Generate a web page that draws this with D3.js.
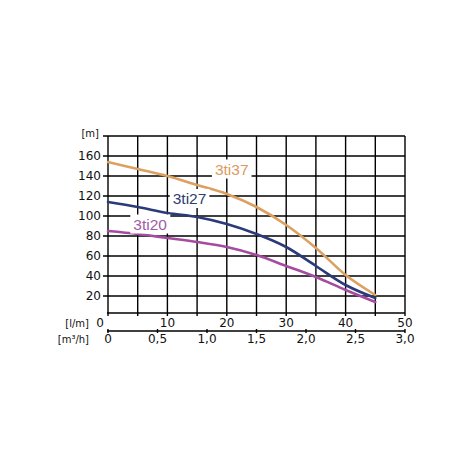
<!DOCTYPE html>
<html>
<head>
<meta charset="utf-8">
<script src="https://cdn.jsdelivr.net/npm/d3@7"></script>
<style>
  html, body { margin: 0; padding: 0; background: #fff; }
  svg { display: block; }
</style>
</head>
<body>
<div id="chart"></div>
<script>
// Data
const flowLpm = [0, 5, 10, 15, 20, 25, 30, 35, 40, 45];
const head3ti37 = [154, 147, 140, 131, 122, 109, 91, 68, 41, 21];
const head3ti27 = [114, 109, 103, 99, 92, 82, 69, 50, 31, 18];
const head3ti20 = [85, 82, 78, 74, 69, 61, 50, 39, 26, 14];
const seriesNames = ["3ti37", "3ti27", "3ti20"];

const yTicks = [20, 40, 60, 80, 100, 120, 140, 160];
const lpmTicks = [10, 20, 30, 40, 50];
const m3hTicks = [0, 0.5, 1.0, 1.5, 2.0, 2.5, 3.0];

// Configuration
const width = 470;
const height = 470;
const colors = ["#dca061", "#2b3a78", "#a44c9f"];
const labelColors = ["#dc9a60", "#2e3d70", "#a05ca6"];

const svg = d3.select("#chart")
    .append("svg")
    .attr("width", width)
    .attr("height", height)
    .attr("viewBox", [0, 0, width, height]);

svg.append("rect").attr("width", width).attr("height", height).attr("fill", "#fff");

// Scales - the bottom axis sits a little above 0 m on the original sheet
const x = d3.scaleLinear().domain([0, 50]).range([108, 405]);
const x2 = d3.scaleLinear().domain([0, 3]).range([108, 405]);
const y = d3.scaleLinear().domain([3, 180]).range([313, 136]);

const grid = svg.append("g")
    .attr("stroke", "#000")
    .attr("stroke-width", 1.4);

// vertical grid, every 5 l/m, with small tick under the axis
grid.selectAll("line.v")
    .data(d3.range(0, 51, 5))
    .join("line")
    .attr("class", "v")
    .attr("x1", d => x(d)).attr("x2", d => x(d))
    .attr("y1", y(180)).attr("y2", y(3) + 3);

// horizontal grid, sticking out to the left as ticks
grid.selectAll("line.h")
    .data([...yTicks, 180])
    .join("line")
    .attr("class", "h")
    .attr("x1", x(0) - 5).attr("x2", x(50))
    .attr("y1", d => y(d)).attr("y2", d => y(d));

// bottom axis line
grid.append("line")
    .attr("x1", x(0) - 1).attr("x2", x(50))
    .attr("y1", y(3)).attr("y2", y(3));

// second axis (m3/h)
const axis2Y = 331;
grid.append("line")
    .attr("x1", x2(0) - 1).attr("x2", x2(3))
    .attr("y1", axis2Y).attr("y2", axis2Y);
grid.selectAll("line.t2")
    .data(m3hTicks)
    .join("line")
    .attr("class", "t2")
    .attr("x1", d => x2(d)).attr("x2", d => x2(d))
    .attr("y1", axis2Y - 2).attr("y2", axis2Y + 2);

// text styles
const tickFont = "DejaVu Sans, sans-serif";

svg.append("g")
    .selectAll("text")
    .data(yTicks)
    .join("text")
    .attr("x", 101)
    .attr("y", d => y(d))
    .attr("dy", "0.36em")
    .attr("text-anchor", "end")
    .style("font", `12px ${tickFont}`)
    .attr("fill", "#111")
    .text(d => d);

svg.append("text")
    .attr("x", 99).attr("y", 137)
    .attr("text-anchor", "end")
    .style("font", `10px ${tickFont}`)
    .attr("fill", "#111")
    .text("[m]");

// l/m labels
svg.append("text")
    .attr("x", 100).attr("y", 327)
    .attr("text-anchor", "middle")
    .style("font", `12px ${tickFont}`)
    .attr("fill", "#111")
    .text("0");

svg.append("g")
    .selectAll("text")
    .data(lpmTicks)
    .join("text")
    .attr("x", d => x(d))
    .attr("y", 327)
    .attr("text-anchor", "middle")
    .style("font", `12px ${tickFont}`)
    .attr("fill", "#111")
    .text(d => d);

svg.append("text")
    .attr("x", 89).attr("y", 327)
    .attr("text-anchor", "end")
    .style("font", `10px ${tickFont}`)
    .attr("fill", "#111")
    .text("[l/m]");

// m3/h labels
svg.append("g")
    .selectAll("text")
    .data(m3hTicks)
    .join("text")
    .attr("x", d => x2(d))
    .attr("y", 343)
    .attr("text-anchor", "middle")
    .style("font", `12px ${tickFont}`)
    .attr("fill", "#111")
    .text(d => d === 0 ? "0" : d.toFixed(1).replace(".", ","));

svg.append("text")
    .attr("x", 89).attr("y", 343)
    .attr("text-anchor", "end")
    .style("font", `10px ${tickFont}`)
    .attr("fill", "#111")
    .text("[m³/h]");

// Curves
const line = d3.line()
    .x(d => x(d[0]))
    .y(d => y(d[1]))
    .curve(d3.curveMonotoneX);

const series = [head3ti37, head3ti27, head3ti20];

svg.append("g")
    .selectAll("path")
    .data(series)
    .join("path")
    .attr("fill", "none")
    .attr("stroke", (d, i) => colors[i])
    .attr("stroke-width", 2.6)
    .attr("stroke-linecap", "round")
    .attr("d", d => line(flowLpm.map((f, j) => [f, d[j]])));

// Curve labels on white boxes
const labelPos = [[18.0, 141.5], [10.9, 112], [4.26, 86.5]];

seriesNames.forEach((name, i) => {
    const g = svg.append("g");
    const t = g.append("text")
        .attr("x", x(labelPos[i][0]))
        .attr("y", y(labelPos[i][1]))
        .style("font", "15.5px Liberation Sans, Arial, sans-serif")
        .attr("fill", labelColors[i])
        .text(name);
    const bb = t.node().getBBox();
    g.insert("rect", "text")
        .attr("x", bb.x - 3)
        .attr("y", bb.y - 1)
        .attr("width", bb.width + 6)
        .attr("height", bb.height + 2)
        .attr("fill", "#fff");
});
</script>
</body>
</html>
